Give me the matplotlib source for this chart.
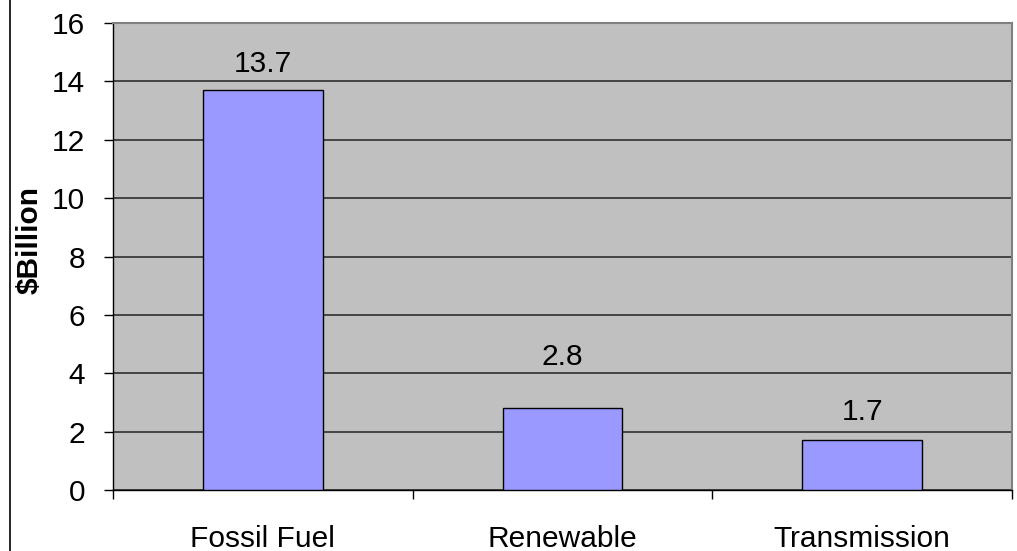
import matplotlib.pyplot as plt
from matplotlib.lines import Line2D

plt.rcParams["font.family"] = ["Liberation Sans", "DejaVu Sans"]

# Dane
categories = ["Fossil Fuel", "Renewable", "Transmission"]
values = [13.7, 2.8, 1.7]
y_ticks = [0, 2, 4, 6, 8, 10, 12, 14, 16]
# przesuniecie etykiet nad slupkami (piksele), jak w oryginale
label_offsets = [18, 43, 20]

fig = plt.figure(figsize=(10.17, 5.51), dpi=100)
fig.patch.set_facecolor("white")
ax = fig.add_axes([113 / 1017, 61 / 551, 899 / 1017, 467 / 551])
ax.set_facecolor("#C0C0C0")

x = list(range(len(categories)))
ax.bar(x, values, width=0.4, color="#9999FF", edgecolor="black", linewidth=1.0, zorder=3)

for xi, v, off in zip(x, values, label_offsets):
    ax.annotate(f"{v}", xy=(xi, v), xytext=(0, off), textcoords="offset pixels",
                ha="center", va="baseline", fontsize=21.5, color="black")

ax.set_xlim(-0.5, len(categories) - 0.5)
ax.set_ylim(0, 16)
ax.set_yticks(y_ticks)
ax.yaxis.grid(True, color="#3a3a3a", linewidth=1.3, zorder=1)
ax.set_axisbelow(True)

ax.tick_params(axis="y", direction="out", length=6.5, width=1, pad=13.7,
               labelsize=21.5, colors="black")
ax.set_xticks(x)
ax.set_xticklabels(categories)
ax.tick_params(axis="x", which="major", length=0, pad=25, labelsize=21.5)
ax.set_xticks([-0.5, 0.5, 1.5, 2.5], minor=True)
ax.tick_params(axis="x", which="minor", direction="out", length=6.5, width=1, color="black")

ax.set_ylabel("$Billion", fontsize=21.5, fontweight="bold")
ax.yaxis.set_label_coords(-0.0768, 0.535)

for side in ["left", "bottom"]:
    ax.spines[side].set_color("black")
    ax.spines[side].set_linewidth(1.0)
for side in ["top", "right"]:
    ax.spines[side].set_color("#808080")
    ax.spines[side].set_linewidth(1.5)

# ramka wykresu po lewej stronie
fig.add_artist(Line2D([9.5 / 1017, 9.5 / 1017], [0, 1], transform=fig.transFigure,
                      color="black", linewidth=1.2))

fig.savefig("out.png", dpi=100)
